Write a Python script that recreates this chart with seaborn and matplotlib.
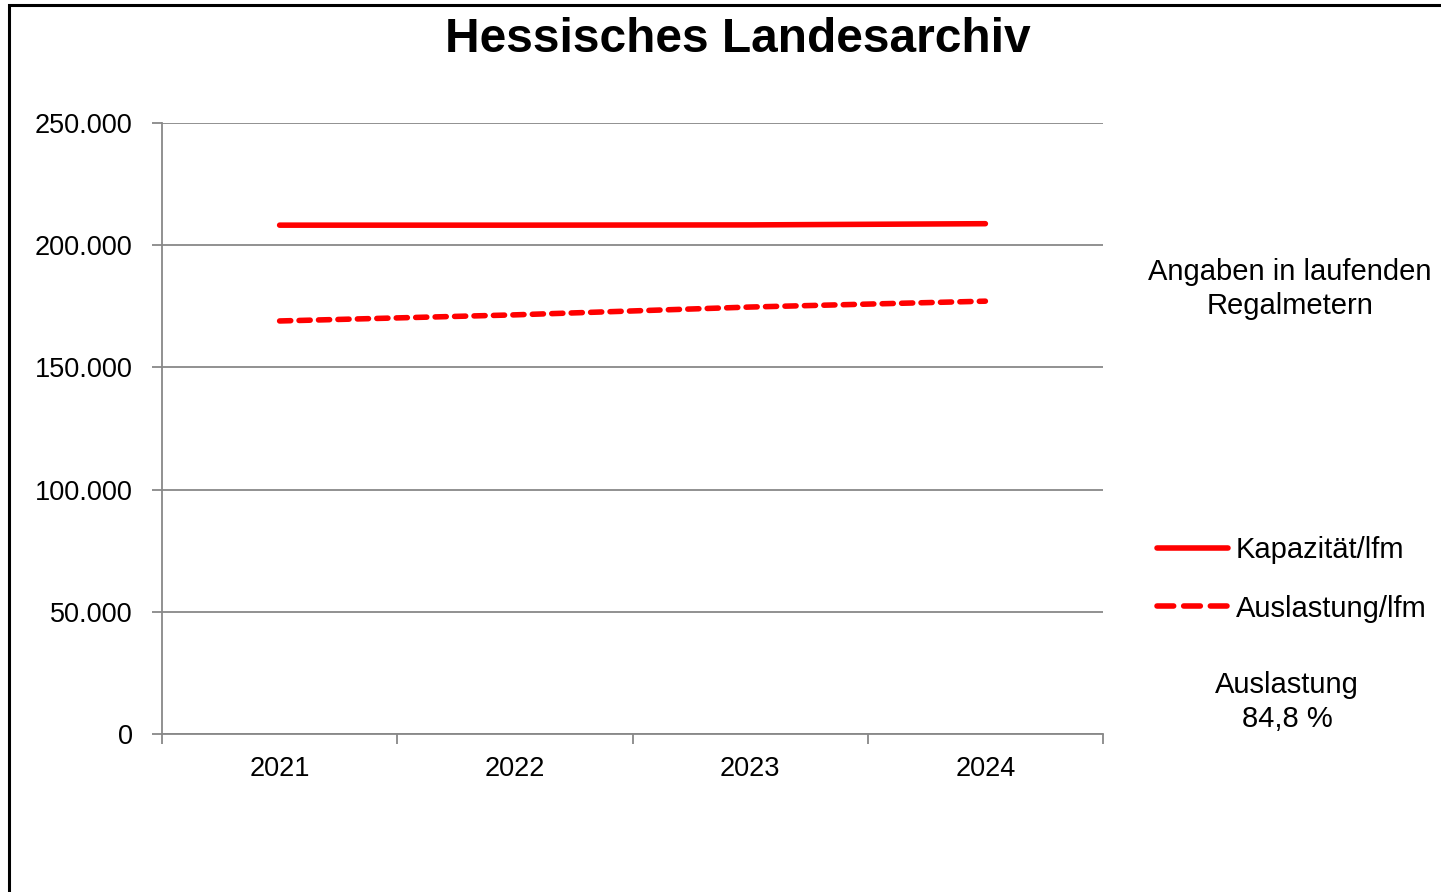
import matplotlib
matplotlib.use("Agg")
import matplotlib.pyplot as plt
import matplotlib.ticker as mticker
from matplotlib.patches import Rectangle
from matplotlib.lines import Line2D
import seaborn as sns
import pandas as pd

years = ["2021", "2022", "2023", "2024"]
kapazitaet = [208200, 208200, 208300, 208800]
auslastung = [169000, 171500, 174700, 177100]
series_names = ["Kapazität/lfm", "Auslastung/lfm"]

sns.set_theme(style="white")
plt.rcParams['font.family'] = ['Liberation Sans', 'DejaVu Sans']
plt.rcParams['text.color'] = 'black'

df = pd.DataFrame({
    "pos": list(range(len(years))) * 2,
    "value": kapazitaet + auslastung,
    "series": [series_names[0]] * len(years) + [series_names[1]] * len(years),
})

fig = plt.figure(figsize=(14.41, 8.92), dpi=100)
W, H = 1441, 892
ax = fig.add_axes([162 / W, 1 - 734 / H, (1103 - 162) / W, (734 - 123) / H])

sns.lineplot(data=df, x="pos", y="value", hue="series", style="series",
             palette=["#ff0000", "#ff0000"], dashes=[(None, None), (2.0, 1.5)],
             linewidth=4.0, ax=ax, legend=False)
for ln in ax.get_lines():
    ln.set_solid_capstyle("round")
    ln.set_dash_capstyle("round")

ax.set_xlim(-0.5, len(years) - 0.5)
ax.set_ylim(0, 250000)
ax.set_xlabel("")
ax.set_ylabel("")

# x ticks at category boundaries, labels at centers
ax.set_xticks([i - 0.5 for i in range(len(years) + 1)])
ax.set_xticklabels([])
ax.set_xticks(list(range(len(years))), minor=True)
ax.set_xticklabels(years, minor=True)
ax.tick_params(axis="x", which="major", bottom=True, direction="out", length=7, width=1.3, color="#888888")
ax.tick_params(axis="x", which="minor", bottom=True, length=0, labelsize=19.5, pad=16, labelcolor="black")

ax.set_yticks([0, 50000, 100000, 150000, 200000, 250000])
ax.yaxis.set_major_formatter(mticker.FuncFormatter(lambda v, p: f"{int(v):,}".replace(",", ".")))
ax.tick_params(axis="y", left=True, direction="out", length=7, width=1.3, color="#888888",
               labelsize=19.5, pad=14, labelcolor="black")

ax.grid(axis="y", color="#888888", linewidth=1.3)
ax.set_axisbelow(True)
for s in ["top", "right"]:
    ax.spines[s].set_visible(False)
for s in ["left", "bottom"]:
    ax.spines[s].set_color("#888888")
    ax.spines[s].set_linewidth(1.3)

fig.text(738 / W, 1 - 39 / H, "Hessisches Landesarchiv", ha="center", va="center",
         fontsize=34.5, fontweight="bold", color="black")
fig.text(1290 / W, 1 - 289 / H, "Angaben in laufenden\nRegalmetern", ha="center", va="center",
         fontsize=21, linespacing=1.25, color="black")
fig.text(1287 / W, 1 - 702 / H, "Auslastung\n84,8 %", ha="center", va="center",
         fontsize=21, linespacing=1.25, color="black")

handles = [
    Line2D([], [], color="#ff0000", linewidth=4.0, solid_capstyle="round"),
    Line2D([], [], color="#ff0000", linewidth=4.0, linestyle=(0, (3.0, 1.8)), dash_capstyle="round"),
]
leg = fig.legend(handles, series_names, loc="upper left", bbox_to_anchor=(1157 / W, 1 - 536 / H),
                 frameon=False, fontsize=21, handlelength=2.45, handletextpad=0.25, labelspacing=1.05,
                 borderpad=0, borderaxespad=0)
for t in leg.get_texts():
    t.set_color("black")

fig.patches.append(Rectangle((9 / W, -0.1), 1.2, 1.1 - 5 / H, transform=fig.transFigure,
                             fill=False, edgecolor="black", linewidth=2.2, zorder=10))

fig.savefig("out.png", dpi=100)
